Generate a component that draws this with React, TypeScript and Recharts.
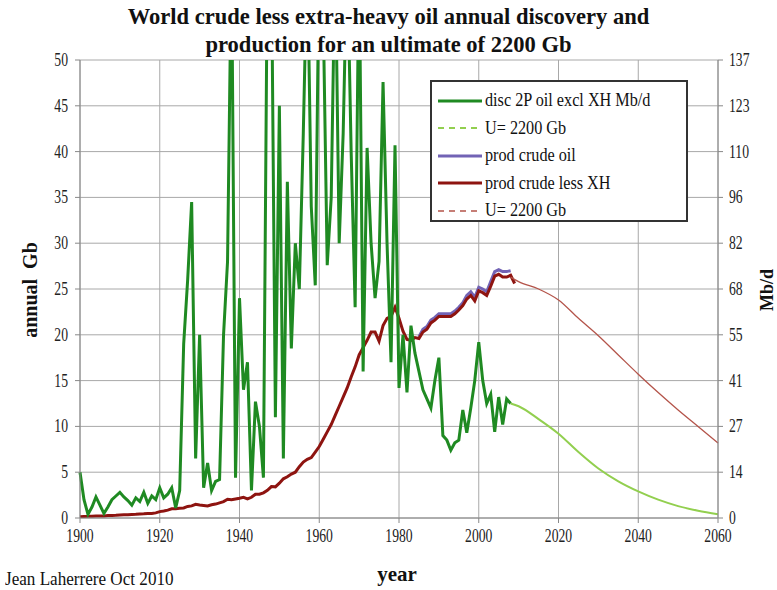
import { LineChart, Line, XAxis, YAxis, CartesianGrid } from "recharts";

const SERIF = "'Liberation Serif','Times New Roman',serif";

// yearly discovery (Gb), 1900..2008
const DISC_START = 1900;
const discovery = [
  5, 2, 0.4, 1.2, 2.3, 1.4, 0.5, 1.2, 2, 2.4,
  2.8, 2.3, 1.9, 1.4, 2.2, 1.8, 2.8, 1.6, 2.4, 2.0,
  3.3, 2.2, 2.6, 3.3, 1.1, 3, 19, 26, 34.5, 6.5,
  20, 3.3, 6, 3, 4, 4.2, 20, 28, 62, 4.4,
  24, 14, 17, 3, 12.7, 10, 4.4, 62, 62, 11,
  45, 6.5, 36.7, 18.5, 30, 25, 42, 62, 34, 25.4,
  62, 55, 27.6, 35, 62, 30, 42, 62, 40, 23,
  62, 16, 40.4, 30, 24, 28, 47.6, 30, 17, 40.7,
  14.2, 20, 13.7, 21, 18, 16, 14, 13, 12, 15,
  17.5, 9, 8.5, 7.4, 8.2, 8.5, 11.8, 9.3, 12, 15,
  19.2, 15, 12.5, 13.5, 9.4, 13.2, 10.2, 13, 12.5,
];

// crude less extra-heavy production (Gb/yr), 1900..2009
const PROD_START = 1900;
const prodLessXH = [
  0.15, 0.17, 0.18, 0.2, 0.22, 0.22, 0.22, 0.26, 0.28, 0.3,
  0.33, 0.35, 0.35, 0.38, 0.4, 0.43, 0.46, 0.5, 0.5, 0.56,
  0.7, 0.77, 0.86, 1.0, 1.0, 1.07, 1.1, 1.26, 1.32, 1.49,
  1.41, 1.37, 1.31, 1.44, 1.52, 1.65, 1.79, 2.04, 1.99, 2.08,
  2.15, 2.25, 2.09, 2.26, 2.59, 2.6, 2.75, 3.02, 3.43, 3.4,
  3.8, 4.28, 4.5, 4.8, 5.0, 5.6, 6.1, 6.4, 6.6, 7.2,
  7.8, 8.6, 9.4, 10.2, 11.2, 12.2, 13.2, 14.2, 15.4, 16.5,
  17.8, 18.6, 19.4, 20.3, 20.3, 19.3, 21.0, 21.8, 22.0, 23.0,
  21.8, 20.4, 19.5, 19.4, 19.7, 19.6, 20.3, 20.6, 21.3, 21.6,
  22.0, 22.0, 22.0, 22.0, 22.3, 22.7, 23.2, 23.9, 24.3, 23.7,
  24.8, 24.6, 24.3, 25.3, 26.4, 26.6, 26.3, 26.3, 26.5, 25.6,
];

// all crude production, only where it differs visibly (1985..2008)
const ALL_START = 1985;
const prodCrude = [
  19.8, 20.6, 20.9, 21.6, 21.9, 22.3, 22.3, 22.3, 22.3, 22.6,
  23.0, 23.5, 24.3, 24.7, 24.1, 25.2, 25.0, 24.7, 25.8, 26.9,
  27.1, 26.9, 26.9, 27.0,
];

// U = 2200 Gb models
const modelYears = [2008, 2010, 2015, 2020, 2025, 2030, 2035, 2040, 2045, 2050, 2055, 2060];
const discModel = [12.5, 12.2, 10.8, 9.2, 7.2, 5.4, 4.0, 2.9, 2.0, 1.3, 0.8, 0.4];
const prodModel = [26.3, 25.8, 25.0, 23.8, 21.8, 19.9, 17.8, 15.7, 13.7, 11.8, 10.0, 8.2];

const xTicks = [1900, 1920, 1940, 1960, 1980, 2000, 2020, 2040, 2060];
const leftTicks = [0, 5, 10, 15, 20, 25, 30, 35, 40, 45, 50];
const rightTickLabels = ["0", "14", "27", "41", "55", "68", "82", "96", "110", "123", "137"];
const rightTicks = rightTickLabels.map((_, i) => (137 * i) / 10);

const data: any[] = [];
for (let y = 1900; y <= 2060; y++) {
  const row: any = { year: y };
  const d = discovery[y - DISC_START];
  if (d !== undefined) row.disc = d;
  const p = prodLessXH[y - PROD_START];
  if (p !== undefined) row.prod = p;
  const a = prodCrude[y - ALL_START];
  if (y >= ALL_START && a !== undefined) row.all = a;
  const m = modelYears.indexOf(y);
  if (m >= 0) { row.discU = discModel[m]; row.prodU = prodModel[m]; }
  data.push(row);
}

const C = {
  disc: "#1f8a22",
  discU: "#92cf4f",
  all: "#7263b5",
  prod: "#8e1410",
  prodU: "#b4544a",
  grid: "#a8a8a8",
};

const XTick = ({ x, y, payload }: any) => (
  <g transform={`translate(${x},${y + 17})`}>
    <text transform="scale(0.72,1)" textAnchor="middle" fontFamily={SERIF} fontSize={19} fill="#222">{payload.value}</text>
  </g>
);

const LTick = ({ x, y, payload }: any) => (
  <g transform={`translate(${x - 5},${y + 6})`}>
    <text transform="scale(0.72,1)" textAnchor="end" fontFamily={SERIF} fontSize={19} fill="#222">{payload.value}</text>
  </g>
);

const RTick = ({ x, y, payload, index }: any) => (
  <g transform={`translate(${x + 4},${y + 6})`}>
    <text transform="scale(0.72,1)" textAnchor="start" fontFamily={SERIF} fontSize={19} fill="#222">{rightTickLabels[index] ?? Math.round(payload.value)}</text>
  </g>
);

const legendRows = [
  { label: "disc 2P oil excl XH Mb/d", color: C.disc, dash: false, w: 3 },
  { label: "U= 2200 Gb", color: C.discU, dash: true, w: 2 },
  { label: "prod crude oil", color: C.all, dash: false, w: 3 },
  { label: "prod crude less XH", color: C.prod, dash: false, w: 3 },
  { label: "U= 2200 Gb", color: C.prodU, dash: true, w: 1.5 },
];

export default function App() {
  return (
    <div style={{ position: "absolute", left: 0, top: 0, width: 777, height: 590, background: "#fff", fontFamily: SERIF }}>
      <div style={{ position: "absolute", left: 0, width: 777, top: 3, textAlign: "center", fontWeight: "bold", fontSize: 23, lineHeight: "28px", color: "#111", transform: "scaleX(0.98)" }}>
        World crude less extra-heavy oil annual discovery and<br />production for an ultimate of 2200 Gb
      </div>
      <LineChart width={777} height={590} data={data} margin={{ top: 60, right: 14, bottom: 47, left: 40 }}>
        <CartesianGrid stroke={C.grid} yAxisId="left" />
        <XAxis dataKey="year" type="number" domain={[1900, 2060]} ticks={xTicks} tick={<XTick />}
          stroke="#888" tickSize={5} height={25} interval={0} />
        <YAxis yAxisId="left" domain={[0, 50]} ticks={leftTicks} allowDataOverflow tick={<LTick />}
          stroke="#888" tickSize={5} width={40} interval={0} />
        <YAxis yAxisId="right" orientation="right" domain={[0, 137]} ticks={rightTicks} tick={<RTick />}
          stroke="#888" tickSize={5} width={45} interval={0} allowDataOverflow />
        <Line yAxisId="left" dataKey="all" stroke={C.all} strokeWidth={3} dot={false} isAnimationActive={false} />
        <Line yAxisId="left" dataKey="prod" stroke={C.prod} strokeWidth={3} dot={false} isAnimationActive={false} />
        <Line yAxisId="left" dataKey="prodU" type="monotone" connectNulls stroke={C.prodU} strokeWidth={1.3} dot={false} isAnimationActive={false} />
        <Line yAxisId="left" dataKey="disc" stroke={C.disc} strokeWidth={3} dot={false} isAnimationActive={false} />
        <Line yAxisId="left" dataKey="discU" type="monotone" connectNulls stroke={C.discU} strokeWidth={2} dot={false} isAnimationActive={false} />
      </LineChart>

      <div style={{ position: "absolute", left: 430, top: 80, width: 258, height: 142, border: "2px solid #333", background: "#fff", boxSizing: "border-box", padding: "5px 0 0 6px" }}>
        {legendRows.map((r, i) => (
          <div key={i} style={{ display: "flex", alignItems: "center", height: 27.5 }}>
            <svg width={44} height={8} style={{ marginRight: 3 }}>
              <line x1={0} y1={4} x2={44} y2={4} stroke={r.color} strokeWidth={r.w} strokeDasharray={r.dash ? "6 5" : undefined} />
            </svg>
            <span style={{ fontSize: 18, color: "#111", transform: "scaleX(0.9)", transformOrigin: "left center", whiteSpace: "nowrap" }}>{r.label}</span>
          </div>
        ))}
      </div>

      <div style={{ position: "absolute", left: 30, top: 290, transform: "translate(-50%,-50%) rotate(-90deg)", fontWeight: "bold", fontSize: 20, whiteSpace: "nowrap", color: "#111" }}>annual&nbsp; Gb</div>
      <div style={{ position: "absolute", left: 767, top: 290, transform: "translate(-50%,-50%) rotate(-90deg)", fontWeight: "bold", fontSize: 18, whiteSpace: "nowrap", color: "#111" }}>Mb/d</div>
      <div style={{ position: "absolute", left: 397, top: 574, transform: "translate(-50%,-50%)", fontWeight: "bold", fontSize: 21, color: "#111" }}>year</div>
      <div style={{ position: "absolute", left: 5, top: 569, fontSize: 18, color: "#111", transform: "scaleX(0.95)", transformOrigin: "left top", whiteSpace: "nowrap" }}>Jean Laherrere Oct 2010</div>
    </div>
  );
}
